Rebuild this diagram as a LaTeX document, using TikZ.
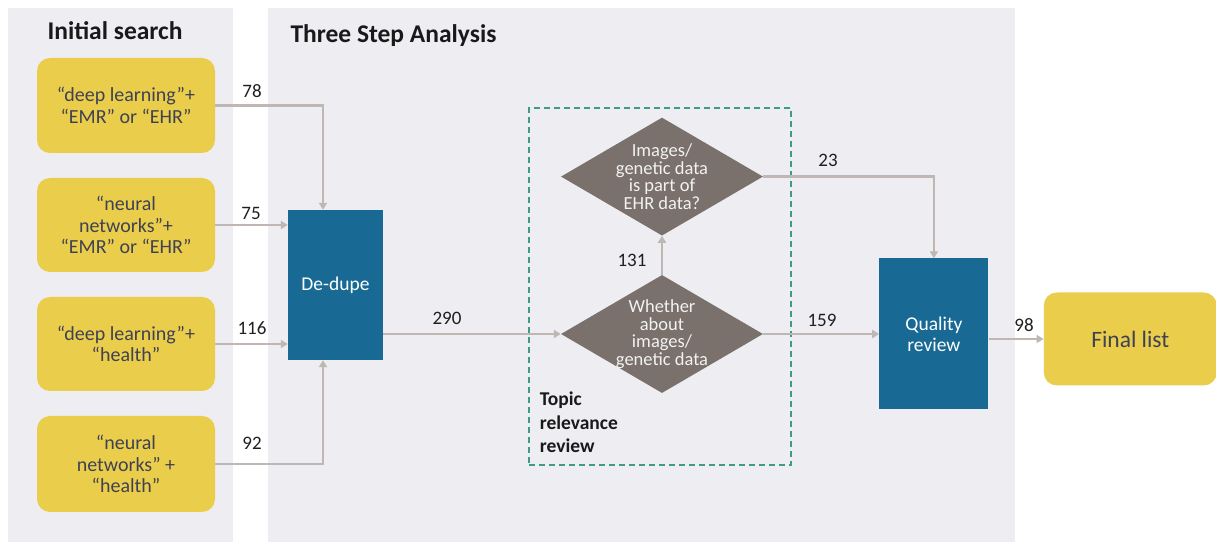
\documentclass[tikz,border=0pt]{standalone}
\usepackage{fontspec}
\setmainfont{Carlito}
\usetikzlibrary{positioning,shapes.geometric,arrows.meta}

\definecolor{panelgray}{HTML}{EDEDF2}
\definecolor{queryyellow}{HTML}{EBCD4C}
\definecolor{stepblue}{HTML}{186A94}
\definecolor{decisiongray}{HTML}{7B716C}
\definecolor{arrowgray}{HTML}{BEB7B4}
\definecolor{dashgreen}{HTML}{3C9C88}
\definecolor{querytext}{HTML}{3F4252}

\begin{document}
\begin{tikzpicture}[x=1pt,y=1pt]
		\tikzstyle{panel}=[rectangle, fill=panelgray, inner sep=0pt]
		\tikzstyle{title}=[font=\fontsize{25.5}{28}\selectfont\bfseries, text=black!90]
		\tikzstyle{query}=[rectangle, rounded corners=13pt, fill=queryyellow, text=querytext, minimum width=178pt, align=center, font=\fontsize{20}{21.5}\selectfont]
		\tikzstyle{stepbox}=[rectangle, fill=stepblue, text=white, align=center, font=\fontsize{19.5}{21}\selectfont]
		\tikzstyle{decision}=[diamond, aspect=1.71, fill=decisiongray, text=white!95!black, minimum width=202pt, minimum height=118pt, inner sep=-4pt, align=center, font=\fontsize{18.5}{17.5}\selectfont]
		\tikzstyle{count}=[font=\fontsize{19}{19}\selectfont, text=black!88]
		\tikzstyle{connect}=[-{Triangle[width=8pt,length=7pt]}, line width=2.6pt, draw=arrowgray]
		\useasboundingbox (0,0) rectangle (1216,543);
		
		\node[panel, minimum width=225pt, minimum height=534pt] (leftpanel) at (120.5,268) {};
		\node[panel, minimum width=747pt, minimum height=534pt] (rightpanel) at (641.5,268) {};
		\node[title, anchor=west] (initial) at (44,512) {Initial search};
		\node[title, anchor=west] (threestep) at (287,507) {Three Step Analysis};
		
		% initial search queries
		\node[query, minimum height=95pt] (q1) at (126,437.5) {“deep learning”+\\“EMR” or “EHR”};
		\node[query, minimum height=94pt] (q2) at (126,318) {“neural\\networks”+\\“EMR” or “EHR”};
		\node[query, minimum height=94pt] (q3) at (126,199) {“deep learning”+\\“health”};
		\node[query, minimum height=96pt] (q4) at (126,79) {“neural\\networks” +\\“health”};
		
		\node[stepbox, minimum width=95pt, minimum height=150pt] (dedupe) at (335.5,258) {De-dupe};
		
		% topic relevance review
		\node[decision] (d2) at (662,209) {Whether\\about\\images/\\genetic data};
		\node[decision] (d1) [above=39pt of d2] {Images/\\genetic data\\is part of\\EHR data?};
		\node[rectangle, draw=dashgreen, line width=1.3pt, dash pattern=on 6pt off 4pt, minimum width=262pt, minimum height=357pt] (topic) at (660,256.5) {};
		\node[anchor=south west, align=left, font=\fontsize{19.5}{23.5}\selectfont\bfseries, text=black!90] (topiclabel) at ([xshift=8pt,yshift=9pt]topic.south west) {Topic\\relevance\\review};
		
		\node[stepbox, minimum width=109pt, minimum height=151pt] (quality) [right=116pt of d2] {Quality\\review};
		\node[query, minimum width=173pt, minimum height=93pt, font=\fontsize{23.5}{26}\selectfont] (final) [right=55pt of quality, yshift=-5pt] {Final list};
		
		\draw[connect] (q1.east) -| ([xshift=-12.5pt]dedupe.north);
		\path (q2.east) edge [connect] (q2.east -| dedupe.west);
		\path (q3.east) edge [connect] (q3.east -| dedupe.west);
		\draw[connect] (q4.east) -| ([xshift=-12.5pt]dedupe.south);
		
		\path (d2.west -| dedupe.east) edge [connect] (d2.west);
		\path (d2.north) edge [connect] (d1.south);
		\draw[connect] (d1.east) -| (quality.north);
		\path (d2.east) edge [connect] (d2.east -| quality.west);
		\path (final.west -| quality.east) edge [connect] (final.west);
		
		\node[count] (n78) at (252,452) {78};
		\node[count] (n75) at (251,330) {75};
		\node[count] (n116) at (252,215) {116};
		\node[count] (n92) at (252,100) {92};
		\node[count] (n290) at (447,225) {290};
		\node[count] (n131) at (632,283) {131};
		\node[count] (n23) at (828,383) {23};
		\node[count] (n159) at (822,223) {159};
		\node[count] (n98) at (1024,218) {98};
	\end{tikzpicture}
\end{document}
